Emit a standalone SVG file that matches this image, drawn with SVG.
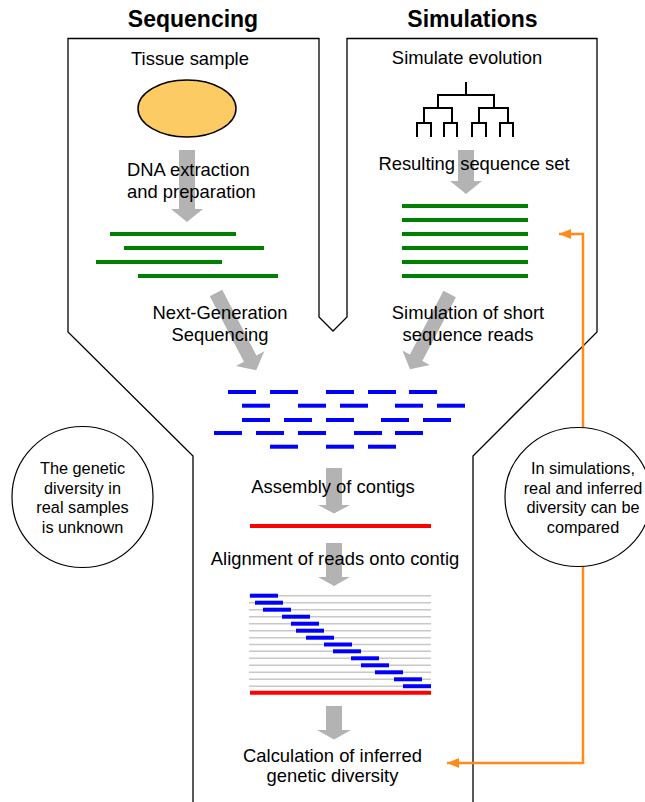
<svg xmlns="http://www.w3.org/2000/svg" width="645" height="802" viewBox="0 0 645 802">
<style>
text{font-family:"Liberation Sans",Arial,sans-serif;fill:#000}
.h{font-size:23px;font-weight:bold;text-anchor:middle}
.t{font-size:18.4px;text-anchor:middle}
.tl{font-size:18.4px;text-anchor:start}
.c{font-size:16.3px;text-anchor:middle}
.ga{fill:#b3b3b3;stroke:none}
.gr{stroke:#008000;stroke-width:4;fill:none}
.bl{fill:#0000ff}
.al{stroke:#c8c8c8;stroke-width:1.5}
.red{stroke:#ff0000;stroke-width:4}
.tree{stroke:#000;stroke-width:2;fill:none}
.outline{stroke:#000;stroke-width:1.3;fill:none}
.orange{stroke:#ff8c1a;stroke-width:2.5;fill:none}
.circ{fill:#fff;stroke:#000;stroke-width:1.2}
</style>
<defs>
<marker id="oh" markerUnits="userSpaceOnUse" markerWidth="13" markerHeight="11" refX="12" refY="5.5" orient="auto-start-reverse">
<path d="M0,0.5 L12,5.5 L0,10.5 z" fill="#ff8c1a"/>
</marker>
<rect id="rd" width="28" height="4" class="bl"/>
</defs>

<g id="outline">
<path class="outline" d="M193,802 V456 L68,332 V38.5 H319 V317 L333,331 L347,317 V38.5 H597 V332 L473,456 V802"/>
</g>

<g id="connectors">
<polygon class="ga" points="179,150 195,150 195,209 203,209 187,222 171,209 179,209"/>
<polygon class="ga" points="458,150 474,150 474,181 482,181 466,194 450,181 458,181"/>
<polygon class="ga" transform="translate(216,293) rotate(-27.5)" points="-7,0 7,0 7,74 16,74 0,87 -16,74 -7,74"/>
<polygon class="ga" transform="translate(449.7,294) rotate(27.8)" points="-7,0 7,0 7,72 15.5,72 0,85 -15.5,72 -7,72"/>
<polygon class="ga" points="326,468 342,468 342,505 350,505 334,513.5 318,505 326,505"/>
<polygon class="ga" points="326,543 342,543 342,577 350,577 334,586 318,577 326,577"/>
<polygon class="ga" points="326,706 342,706 342,730 351,730 334,739.5 317,730 326,730"/>
<path class="orange" d="M559,234 H583 V763 H447" marker-start="url(#oh)" marker-end="url(#oh)"/>
</g>

<g id="header-sequencing"><text class="h" x="193" y="27">Sequencing</text></g>
<g id="header-simulations"><text class="h" x="472.5" y="27">Simulations</text></g>

<g id="tissue">
<text class="t" x="190" y="64.5">Tissue sample</text>
<ellipse cx="187" cy="108.5" rx="49" ry="28.5" fill="#fdcb64" stroke="#000" stroke-width="1.5"/>
</g>

<g id="dna-extraction">
<text class="tl" x="127" y="176">DNA extraction</text>
<text class="tl" x="127" y="198">and preparation</text>
</g>

<g id="sample-sequences">
<line class="gr" x1="110" y1="234" x2="236" y2="234"/>
<line class="gr" x1="124" y1="248" x2="264" y2="248"/>
<line class="gr" x1="96" y1="262" x2="222" y2="262"/>
<line class="gr" x1="138" y1="276" x2="278" y2="276"/>
</g>

<g id="simulate-evolution">
<text class="t" x="467" y="64">Simulate evolution</text>
<path class="tree" d="M466,82 V95 M438,108 V95 H494 V108 M424,123 V108 H452 V123 M479,123 V108 H508 V123 M417,137 V123 H431 V137 M444,137 V123 H457 V137 M472,137 V123 H486 V137 M500,137 V123 H513 V137"/>
</g>

<g id="resulting-set">
<text class="t" x="474" y="170">Resulting sequence set</text>
<line class="gr" x1="402" y1="206" x2="528" y2="206"/>
<line class="gr" x1="402" y1="220" x2="528" y2="220"/>
<line class="gr" x1="402" y1="234" x2="528" y2="234"/>
<line class="gr" x1="402" y1="248" x2="528" y2="248"/>
<line class="gr" x1="402" y1="262" x2="528" y2="262"/>
<line class="gr" x1="402" y1="276" x2="528" y2="276"/>
</g>

<g id="ngs">
<text class="t" x="220" y="319">Next-Generation</text>
<text class="t" x="220" y="341">Sequencing</text>
</g>

<g id="sim-reads">
<text class="t" x="468" y="319">Simulation of short</text>
<text class="t" x="468" y="341">sequence reads</text>
</g>

<g id="short-reads">
<use href="#rd" x="228" y="390"/><use href="#rd" x="270" y="390"/><use href="#rd" x="326" y="390"/><use href="#rd" x="368" y="390"/><use href="#rd" x="409" y="390"/>
<use href="#rd" x="242" y="403.7"/><use href="#rd" x="298" y="403.7"/><use href="#rd" x="340" y="403.7"/><use href="#rd" x="395" y="403.7"/><use href="#rd" x="437" y="403.7"/>
<use href="#rd" x="242" y="418"/><use href="#rd" x="284" y="418"/><use href="#rd" x="326" y="418"/><use href="#rd" x="381" y="418"/><use href="#rd" x="423" y="418"/>
<use href="#rd" x="214" y="431"/><use href="#rd" x="256" y="431"/><use href="#rd" x="298" y="431"/><use href="#rd" x="354" y="431"/><use href="#rd" x="395" y="431"/>
<use href="#rd" x="270" y="444.7"/><use href="#rd" x="326" y="444.7"/><use href="#rd" x="368" y="444.7"/>
</g>

<g id="unknown-diversity">
<circle class="circ" cx="82.5" cy="497" r="70.5"/>
<text class="c" x="82.5" y="474">The genetic</text>
<text class="c" x="82.5" y="493.5">diversity in</text>
<text class="c" x="82.5" y="513">real samples</text>
<text class="c" x="82.5" y="532.5">is unknown</text>
</g>

<g id="compared-diversity">
<ellipse class="circ" cx="578" cy="497" rx="73" ry="69.5"/>
<text class="c" x="583" y="474">In simulations,</text>
<text class="c" x="583" y="493.5">real and inferred</text>
<text class="c" x="583" y="513">diversity can be</text>
<text class="c" x="583" y="532.5">compared</text>
</g>

<g id="assembly">
<text class="t" x="333" y="493">Assembly of contigs</text>
<line class="red" x1="250" y1="526" x2="431" y2="526"/>
</g>

<g id="alignment">
<text class="t" x="335" y="565">Alignment of reads onto contig</text>
<g>
<line class="al" x1="249" y1="595.7" x2="431" y2="595.7"/>
<line class="al" x1="249" y1="602.7" x2="431" y2="602.7"/>
<line class="al" x1="249" y1="609.7" x2="431" y2="609.7"/>
<line class="al" x1="249" y1="616.7" x2="431" y2="616.7"/>
<line class="al" x1="249" y1="623.7" x2="431" y2="623.7"/>
<line class="al" x1="249" y1="630.7" x2="431" y2="630.7"/>
<line class="al" x1="249" y1="637.7" x2="431" y2="637.7"/>
<line class="al" x1="249" y1="644.5" x2="431" y2="644.5"/>
<line class="al" x1="249" y1="651.3" x2="431" y2="651.3"/>
<line class="al" x1="249" y1="658.3" x2="431" y2="658.3"/>
<line class="al" x1="249" y1="665.3" x2="431" y2="665.3"/>
<line class="al" x1="249" y1="672.3" x2="431" y2="672.3"/>
<line class="al" x1="249" y1="679.3" x2="431" y2="679.3"/>
<line class="al" x1="249" y1="686.2" x2="431" y2="686.2"/>
</g>
<use href="#rd" x="250" y="593.7"/>
<use href="#rd" x="255" y="600.7"/>
<use href="#rd" x="263" y="607.7"/>
<use href="#rd" x="282" y="614.7"/>
<use href="#rd" x="291" y="621.7"/>
<use href="#rd" x="296" y="628.7"/>
<use href="#rd" x="306" y="635.7"/>
<use href="#rd" x="324" y="642.5"/>
<use href="#rd" x="333" y="649.3"/>
<use href="#rd" x="351" y="656.3"/>
<use href="#rd" x="361" y="663.3"/>
<use href="#rd" x="375" y="670.3"/>
<use href="#rd" x="394" y="677.3"/>
<use href="#rd" x="403" y="684.2"/>
<line class="red" x1="250" y1="692.7" x2="431" y2="692.7"/>
</g>

<g id="inferred-diversity">
<text class="t" x="332.5" y="762">Calculation of inferred</text>
<text class="t" x="332.5" y="782">genetic diversity</text>
</g>
</svg>
